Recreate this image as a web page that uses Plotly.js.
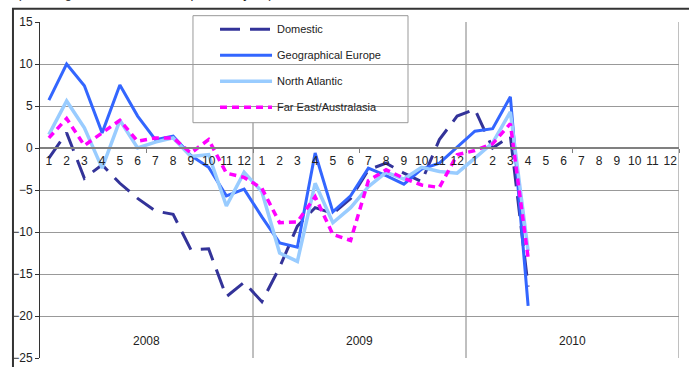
<!DOCTYPE html>
<html><head><meta charset="utf-8">
<script src="https://cdn.plot.ly/plotly-3.0.1.min.js"></script>
<style>html,body{margin:0;padding:0;background:#fff}#chart{width:689px;height:367px}</style>
</head><body><div id="chart"></div>
<script>
const monthLabels = ['1','2','3','4','5','6','7','8','9','10','11','12'];
const years = ['2008','2009','2010'];
const seriesNames = ['Domestic','Geographical Europe','North Atlantic','Far East/Australasia'];

const domestic = [-1.2, 1.8, -3.6, -2.0, -4.2, -6.0, -7.5, -7.9, -12.1, -12.0, -17.7, -16.0,
                  -18.3, -14.2, -9.3, -7.1, -7.8, -6.0, -2.6, -1.8, -3.0, -4.0, 1.0, 3.8,
                  4.6, 0.0, 1.4, -16.5];
const europe = [5.7, 10.0, 7.4, 1.8, 7.5, 3.8, 1.0, 1.4, -0.9, -2.3, -5.7, -4.9,
                -8.2, -11.3, -11.8, -0.6, -7.6, -5.7, -2.4, -3.3, -4.3, -2.5, -1.8, 0.1,
                2.0, 2.3, 6.1, -18.8];
const northAtlantic = [1.6, 5.6, 2.4, -2.4, 3.3, 0.0, 0.7, 1.2, -1.0, -0.8, -6.9, -2.9,
                       -5.2, -12.5, -13.5, -4.2, -8.9, -7.1, -4.6, -2.9, -3.7, -2.3, -2.8, -3.0,
                       -1.2, 0.6, 4.3, -12.3];
const farEast = [1.2, 3.5, 0.3, 1.8, 3.3, 0.8, 1.2, 1.2, -0.6, 1.0, -3.0, -3.5,
                 -4.8, -8.9, -8.8, -5.8, -10.3, -11.0, -3.9, -2.6, -3.6, -4.4, -4.7, -0.8,
                 -0.3, 0.5, 2.9, -13.1];

const nM = monthLabels.length;
const nAll = nM * years.length;
const xIdx = Array.from({length: nAll}, (_, i) => i + 1);
const tickText = years.flatMap(() => monthLabels);

const styles = [
  {color: '#333399', width: 3, dash: '20px,10px'},
  {color: '#3366FF', width: 3, dash: 'solid'},
  {color: '#99CCFF', width: 3.5, dash: 'solid'},
  {color: '#FF00FF', width: 3.5, dash: '7px,5px'}
];
const values = [domestic, europe, northAtlantic, farEast];

const traces = values.map((v, k) => ({
  type: 'scatter', mode: 'lines', name: seriesNames[k],
  x: xIdx.slice(0, v.length), y: v,
  line: styles[k], legendgroup: 'g' + k, hoverinfo: 'skip'
}));
traces.push({type: 'scatter', mode: 'lines', x: [null], y: [null], xaxis: 'x2', showlegend: false, hoverinfo: 'skip'});

const yMin = -25, yMax = 15;
const zeroPos = (0 - yMin) / (yMax - yMin);
const font = {family: 'Arial, "Liberation Sans", sans-serif', size: 12, color: '#222'};

const shapes = years.map((_, i) => ({
  type: 'line', xref: 'x', yref: 'paper', x0: (i + 1) * nM + 0.5, x1: (i + 1) * nM + 0.5, y0: 0, y1: 1,
  line: {color: '#808080', width: 1}, layer: 'between'
}));
// legend box
shapes.push({type: 'rect', xref: 'paper', yref: 'paper', x0: 0.2394, x1: 0.5759, y0: 0.7003, y1: 1.0188,
  line: {color: '#999', width: 1}, fillcolor: '#fff', layer: 'between'});
// outer chart border
shapes.push({type: 'rect', xref: 'paper', yref: 'paper', x0: -0.0423, x1: 1.2, y0: -0.2, y1: 1.0396,
  line: {color: '#333', width: 2}, fillcolor: 'rgba(0,0,0,0)', layer: 'above'});

const annotations = years.map((yr, i) => ({
  xref: 'x', yref: 'y', x: i * nM + (nM + 1) / 2, y: -23, text: yr, showarrow: false,
  font: font, xanchor: 'center', yanchor: 'middle'
}));
annotations.push({xref: 'paper', yref: 'paper', x: -0.039, y: 1.0574, xanchor: 'left', yanchor: 'bottom',
  text: '(% change on same month of previous year)', showarrow: false,
  font: {family: font.family, size: 13, color: '#222'}});

const layout = {
  width: 689, height: 367,
  margin: {l: 40, r: 10, t: 22, b: 9},
  paper_bgcolor: '#fff', plot_bgcolor: '#fff',
  font: font,
  showlegend: true,
  legend: {x: 0.2739, y: 1.0218, xanchor: 'left', yanchor: 'top', bgcolor: 'rgba(0,0,0,0)', borderwidth: 0,
    font: {family: font.family, size: 11, color: '#222'}, traceorder: 'grouped', tracegroupgap: 7, itemwidth: 52},
  xaxis: {
    range: [0.5, nAll + 0.5], tickmode: 'array', tickvals: xIdx, ticktext: tickText,
    ticks: '', showgrid: false, zeroline: false,
    anchor: 'free', position: zeroPos - 3.5 / 336,
    showline: false, tickfont: font, fixedrange: true
  },
  xaxis2: {
    overlaying: 'x', range: [0.5, nAll + 0.5], tickmode: 'array',
    tickvals: Array.from({length: years.length * 2}, (_, i) => (i + 1) * nM / 2 + 0.5),
    ticks: 'outside', ticklen: 4, tickwidth: 1, tickcolor: '#808080', showticklabels: false,
    showgrid: false, zeroline: false, showline: true, linecolor: '#808080', linewidth: 2,
    anchor: 'free', position: zeroPos
  },
  yaxis: {
    range: [yMin, yMax], dtick: 5, tick0: 0, showgrid: true, gridcolor: '#999', gridwidth: 1,
    zeroline: false, showline: true, linecolor: '#333', linewidth: 1,
    ticks: 'outside', ticklen: 4, tickcolor: '#333', tickfont: font
  },
  shapes: shapes,
  annotations: annotations
};

Plotly.newPlot('chart', traces, layout, {staticPlot: true, displayModeBar: false});
</script>
</body></html>
